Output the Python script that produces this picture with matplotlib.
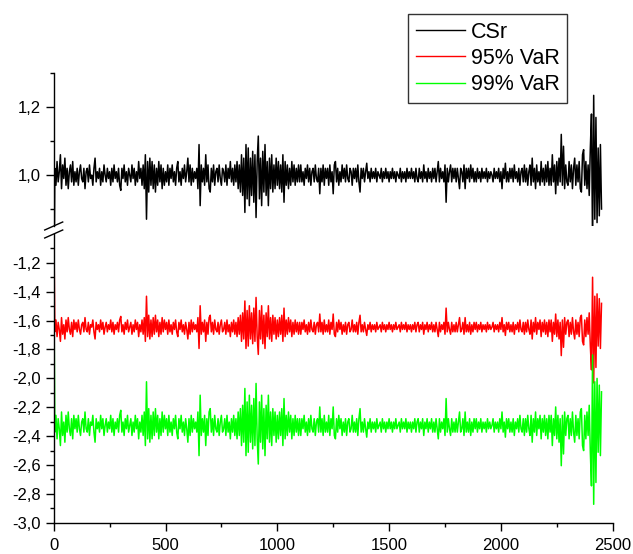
import numpy as np
import matplotlib
matplotlib.use('Agg')
import matplotlib.pyplot as plt
from matplotlib.lines import Line2D
from matplotlib.ticker import MultipleLocator, FixedLocator, FuncFormatter

plt.rcParams['font.family'] = ['Liberation Sans', 'DejaVu Sans']

step = 5
csr_dev = [
    -50, 2, -3, 4, -2, 1, 6, -4, 3, -1, 5, -3, 2, -4, 1, 3, -2, 4, -3, 1,
    -2, 2, -3, 1, 3, -1, -2, 2, -4, 1, 2, -2, 3, -1, 0, -3, 2, 5, -2, 1,
    -1, 2, -3, 1, -2, 3, 0, -2, 2, -1, 1, -3, 2, -2, 3, -1, 1, -2, 2, -3,
    -4.5, 2, -1, 3, -2, 1, -3, 2, 0, -2, 3, -1, 2, -3, 1, -2, 4, -1, 2, -3,
    3, -4, 6, -13, 4, -5, 5, -3, 4, -4, 3, -5, 2, -3, 4, -2, 3, -4, 2, -3,
    1, -2, 3, -3, 2, -1, 3, -2, 1, -3, 2, 4, -2, 1, -3, 2, -1, 3, -2, 1,
    5, -2, 3, -3, 2, -2, 1, -1, 2, -4, 9, -9, 3, -2, 2, -3, 6, -2, 3, -4,
    -5, 2, -2, 3, -3, 1, 2, -2, 3, -1, -3, 2, 1, -2, 3, -3, 2, -1, 4, -2,
    2, -3, 3, -2, 4, -4, 3, -5, 6, -6, 5, -11, 9, -7, 8, -9, 5, -6, 7, -8,
    6, -12.5, 4, 11.5, -7, 5, -9, 7, -5, 9, -6, 4, -9, 5, -4, 6, -5, 3, -4, 5,
    -3, 4, -4, 3, -5, 6, -8, 4, -3, 3, -4, 2, -3, 4, -2, 3, -3, 2, -2, 3,
    -2, 3, -2, 1, -3, 2, -1, 3, -2, 2, -3, 1, 2, -2, 3, -1, -2, 2, -5.5, 2,
    -2, 3, -3, 2, -1, 2, -3, 3, -2, 1, -5.5, 3, 4, -2, 2, -3, 1, -2, 3, -1,
    2, -2, 3, -1, -2, 2, 1, -3, 2, -1, 2, -2, 3, -2, -5, 2, -1, 2, -2, 1,
    3.5, -1, 1, -2, 2, -1, 1, -1, 2, -2, 1, 0, -1, 2, -2, 1, -1, 2, -1, 1,
    -2, 1, -1, 2, -1, 1, -2, 1, 0, -1, 2, -2, 1, -1, 1, -2, 2, -1, 1, -1,
    2, -1, 1, -2, 2, -1, -2, 2, -1, 1, -2, 3, -1, 1, -2, 2, -1, 1, -2, 2,
    -1, 2, -2, 1, 4, -2, 2, -1, 1, -2, 3, -8, 2, -2, 1, 3, -2, 2, -1, 2,
    -2, 2, -1, -4, 2, 1, -2, 3, -4, 2, -1, 2, -2, 3, -1, 2, -2, 1, -2, 2,
    -1, 1, -2, 2, -1, 1, -1, 2, -2, 1, -1, 1, 0, -2, 2, -1, 1, -1, 2, -2,
    1, -4, 2, -1, 3.5, -2, 1, -2, 2, -1, 2, -2, 3, -1, 1, -2, 2, -3, 1, 2,
    -2, 3, -2, 2, -3, 1, 3, -3, 5, -2, 2, -4, 3, -2, 1, -3, 4, -2, 2, -3,
    3, -2, 4, -3, 2, -3, 6, -2, 3, -5.5, 4, -3, 5, -2, 12, -3, 8.5, -4, 3, -2,
    -3, 4, -2, 3, -4, 2, 5, -3, 3, -2, 4, -4, -5, 6, 7.5, -3, 4, -4, 3, -6,
    8, 18, -21, 23.5, -13, 17, -14, 8, -12, 9, -10,
]
z95 = 1.645
z99 = 2.326
labels = ['CSr', '95% VaR', '99% VaR']
colors = ['black', '#ff0000', '#00ff00']

x = np.arange(len(csr_dev)) * step
csr = 1 + np.array(csr_dev) / 100.0
var95 = -z95 * csr
var99 = -z99 * csr

W, H = 633, 554
fig = plt.figure(figsize=(W / 100, H / 100), dpi=100)
left, right = 53.7 / W, 612.7 / W
ax_top = fig.add_axes([left, 1 - 226 / H, right - left, (226 - 73.3) / H])
ax_bot = fig.add_axes([left, 1 - 522.7 / H, right - left, (522.7 - 234) / H])

ax_top.plot(x, csr, color=colors[0], lw=1.1)
ax_bot.plot(x, var95, color=colors[1], lw=1.1)
ax_bot.plot(x, var99, color=colors[2], lw=1.1)

comma = FuncFormatter(lambda v, p: ('%.1f' % v).replace('.', ','))

for ax in (ax_top, ax_bot):
    ax.set_xlim(0, 2500)
    ax.spines['top'].set_visible(False)
    ax.spines['right'].set_visible(False)
    for s in ax.spines.values():
        s.set_linewidth(1.0)
    ax.tick_params(which='major', direction='out', length=6, width=1.0,
                   labelsize=12, pad=3)
    ax.tick_params(which='minor', direction='out', length=3, width=1.0)
    ax.yaxis.set_major_formatter(comma)

ax_top.set_ylim(0.85, 1.3)
ax_top.yaxis.set_major_locator(FixedLocator([1.0, 1.2]))
ax_top.yaxis.set_minor_locator(FixedLocator([0.9, 1.1, 1.3]))
ax_top.spines['bottom'].set_visible(False)
ax_top.tick_params(axis='x', which='both', bottom=False, labelbottom=False)

ax_bot.set_ylim(-3.0, -1.0)
ax_bot.yaxis.set_major_locator(FixedLocator(np.round(np.arange(-3.0, -1.1, 0.2), 1)))
ax_bot.yaxis.set_minor_locator(FixedLocator(np.round(np.arange(-2.9, -1.0, 0.2), 1)))
ax_bot.xaxis.set_major_locator(MultipleLocator(500))
ax_bot.xaxis.set_minor_locator(MultipleLocator(250))
ax_bot.tick_params(axis='x', which='major', pad=5)

# break marks on the left spine
dx, dy = 9 / W, 4 / H
for ax, yy in ((ax_top, ax_top.get_position().y0), (ax_bot, ax_bot.get_position().y1)):
    x0 = ax.get_position().x0
    fig.add_artist(Line2D([x0 - dx, x0 + dx], [yy - dy, yy + dy],
                          transform=fig.transFigure, color='black', lw=1.0))

handles = [Line2D([], [], color=c, lw=1.0) for c in colors]
fig.legend(handles, labels, loc='upper left', bbox_to_anchor=(408 / W, 1 - 14 / H),
           fontsize=15.5, frameon=True, fancybox=False, edgecolor='#333333',
           framealpha=1, borderaxespad=0, handlelength=2.28, handletextpad=0.28,
           labelspacing=0.25, borderpad=0.35)

fig.savefig('out.png', dpi=100)
